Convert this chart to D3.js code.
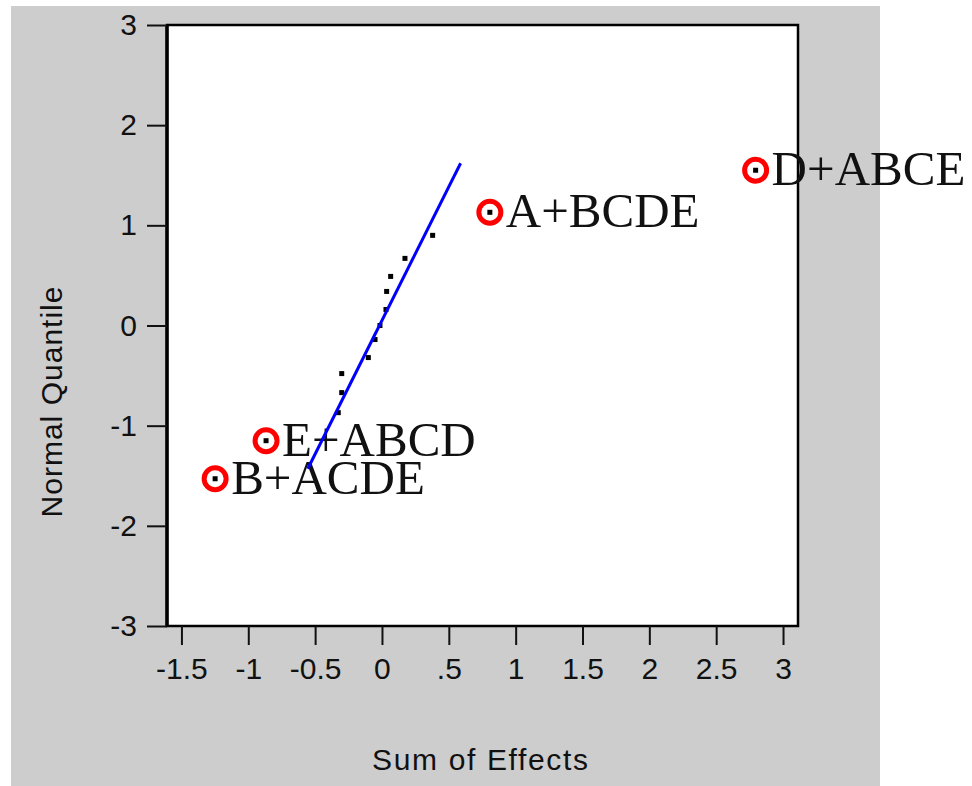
<!DOCTYPE html>
<html>
<head>
<meta charset="utf-8">
<script src="https://cdn.jsdelivr.net/npm/d3@7"></script>
<style>
  body { margin: 0; background: #fff; }
  svg { display: block; }
</style>
</head>
<body>
<div id="chart"></div>
<script>
const width = 972;
const height = 786;

// effect estimates (sum of aliased effects) and their normal quantiles
const effectX = [-1.248, -0.867, -0.327, -0.301, -0.301, -0.102, -0.052, -0.015, 0.03, 0.035, 0.065, 0.172, 0.379, 0.807, 2.795];
const quantileY = [-1.53, -1.15, -0.87, -0.67, -0.48, -0.32, -0.14, 0.0, 0.16, 0.34, 0.49, 0.67, 0.90, 1.13, 1.55];
const pointLabels = ["B+ACDE", "E+ABCD", "", "", "", "", "", "", "", "", "", "", "", "A+BCDE", "D+ABCE"];

// reference line endpoints
const fitX = [-0.555, 0.588];
const fitY = [-1.43, 1.62];

const xTicks = [-1.5, -1, -0.5, 0, 0.5, 1, 1.5, 2, 2.5, 3];
const xTickLabels = ["-1.5", "-1", "-0.5", "0", ".5", "1", "1.5", "2", "2.5", "3"];
const yTicks = [-3, -2, -1, 0, 1, 2, 3];
const yTickLabels = ["-3", "-2", "-1", "0", "1", "2", "3"];

const plot = { left: 167, right: 798, top: 25, bottom: 626 };

const svg = d3.select('#chart')
  .append('svg')
  .attr('width', width)
  .attr('height', height);

svg.append('rect')
  .attr('x', 11).attr('y', 6)
  .attr('width', 869).attr('height', 780)
  .attr('fill', '#cdcdcd');

const x = d3.scaleLinear()
  .domain([-1.608, 3.112])
  .range([plot.left, plot.right]);

const y = d3.scaleLinear()
  .domain([-3, 3])
  .range([plot.bottom, plot.top]);

svg.append('rect')
  .attr('x', plot.left).attr('y', plot.top)
  .attr('width', plot.right - plot.left)
  .attr('height', plot.bottom - plot.top)
  .attr('fill', '#fff')
  .attr('stroke', '#000')
  .attr('stroke-width', 2.5);

// heavier left edge, like the original
svg.append('line')
  .attr('x1', plot.left).attr('x2', plot.left)
  .attr('y1', plot.top).attr('y2', plot.bottom)
  .attr('stroke', '#000')
  .attr('stroke-width', 3.5);

function xAxis(g) {
  g.attr('transform', `translate(0, ${plot.bottom})`)
    .call(d3.axisBottom(x).tickValues(xTicks).tickSize(19).tickPadding(13)
      .tickFormat((d, i) => xTickLabels[i]));
}

function yAxis(g) {
  g.attr('transform', `translate(${plot.left}, 0)`)
    .call(d3.axisLeft(y).tickValues(yTicks).tickSize(20).tickPadding(10)
      .tickFormat((d, i) => yTickLabels[i]));
}

[xAxis, yAxis].forEach(fn => {
  const g = svg.append('g').call(fn);
  g.select('.domain').remove();
  g.selectAll('.tick line').attr('stroke', '#111').attr('stroke-width', 2);
  g.selectAll('.tick text')
    .attr('fill', '#111')
    .attr('font-family', 'Liberation Sans, Arial, sans-serif')
    .attr('font-size', 30);
});

// points
svg.append('g')
  .selectAll('rect')
  .data(effectX)
  .join('rect')
    .attr('x', d => x(d) - 2.5)
    .attr('y', (d, i) => y(quantileY[i]) - 2.5)
    .attr('width', 5)
    .attr('height', 5)
    .attr('fill', '#000');

// highlighted effects
const labelled = effectX.map((d, i) => i).filter(i => pointLabels[i] !== "");

svg.append('g')
  .selectAll('circle')
  .data(labelled)
  .join('circle')
    .attr('cx', i => x(effectX[i]))
    .attr('cy', i => y(quantileY[i]))
    .attr('r', 11)
    .attr('fill', 'none')
    .attr('stroke', '#ff0000')
    .attr('stroke-width', 5);

svg.append('g')
  .selectAll('text')
  .data(labelled)
  .join('text')
    .attr('x', i => x(effectX[i]) + 16)
    .attr('y', i => y(quantileY[i]) + 15)
    .attr('font-family', 'Liberation Serif, Times New Roman, serif')
    .attr('font-size', 49)
    .attr('fill', '#111')
    .text(i => pointLabels[i]);

// reference line
svg.append('path')
  .datum(fitX)
  .attr('d', d3.line().x(d => x(d)).y((d, i) => y(fitY[i])))
  .attr('stroke', '#0000ff')
  .attr('stroke-width', 3)
  .attr('fill', 'none');

svg.append('text')
  .attr('x', 480)
  .attr('y', 770)
  .attr('text-anchor', 'middle')
  .attr('font-family', 'Liberation Sans, Arial, sans-serif')
  .attr('font-size', 30)
  .attr('textLength', 216)
  .attr('fill', '#111')
  .text('Sum of Effects');

svg.append('text')
  .attr('transform', 'translate(62, 402) rotate(-90)')
  .attr('text-anchor', 'middle')
  .attr('font-family', 'Liberation Sans, Arial, sans-serif')
  .attr('font-size', 30)
  .attr('textLength', 231)
  .attr('fill', '#111')
  .text('Normal Quantile');
</script>
</body>
</html>
